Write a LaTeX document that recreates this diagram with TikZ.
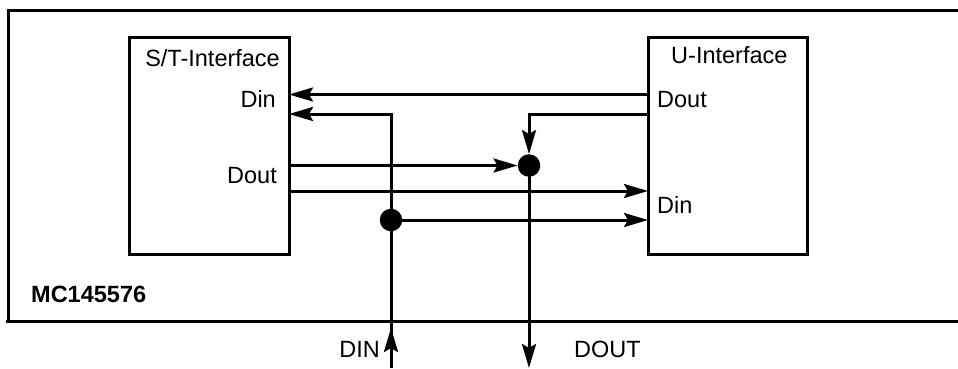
\documentclass[tikz,border=0pt]{standalone}
\usepackage{fontspec}
\setmainfont{Liberation Sans}
\usetikzlibrary{arrows.meta}
\begin{document}
\begin{tikzpicture}[x=1pt,y=-1pt,
  wire/.style={line width=3pt},
  arr/.style={wire,-{Stealth[length=24pt,width=14pt,inset=4pt]}},
  blockbox/.style={draw,line width=3pt,minimum width=160pt,minimum height=217pt,inner sep=0pt},
  junction/.style={circle,fill,draw=none,minimum size=22.5pt,inner sep=0pt},
  lbl/.style={inner sep=0pt,font=\fontsize{23.5}{28}\selectfont},
  blbl/.style={lbl,font=\fontsize{23.5}{28}\selectfont\bfseries}]
\useasboundingbox (0,0) rectangle (958,368);
% outer frame
\draw[wire] (958,10.5) -- (8.5,10.5) -- (8.5,321.5);
\draw[wire] (6,321.5) -- (958,321.5);
% blocks
\node[blockbox] (st) at (209,145.5) {};
\node[blockbox,minimum width=159pt] (u) at (727.5,145.5) {};
% labels
\node[lbl,anchor=base east] (stt) at (280,66) {S/T-Interface};
\node[lbl,anchor=base east] (stdin) at (276,107) {Din};
\node[lbl,anchor=base east] (stdout) at (277,183) {Dout};
\node[lbl,anchor=base west] (ut) at (671,63) {U-Interface};
\node[lbl,anchor=base west] (udout) at (657,107) {Dout};
\node[lbl,anchor=base west] (udin) at (657,213) {Din};
\node[blbl,anchor=base west] (mc) at (31,302) {MC145576};
\node[lbl,anchor=base east] (dinl) at (380,357) {DIN};
\node[lbl,anchor=base west] (doutl) at (574,357) {DOUT};
% ports
\coordinate (stIn1) at (289,94.5);
\coordinate (stIn2) at (289,114);
\coordinate (stOut1) at (289,165.5);
\coordinate (stOut2) at (289,191);
\coordinate (uOut1) at (648,94.5);
\coordinate (uOut2) at (648,114);
\coordinate (uIn1) at (648,191);
\coordinate (uIn2) at (648,220);
\coordinate (dinS) at (391,368);
\coordinate (dinT) at (391,328);
\coordinate (doutE) at (529,368);
% junctions
\node[junction] (j1) at (391,220) {};
\node[junction] (j2) at (529,165.5) {};
% connectors
\draw[arr] (uOut1) -- (stIn1);
\draw[arr] (dinS) |- (stIn2);
\draw[arr] (dinS) -- (dinT);
\draw[arr] (j1.center) -- (uIn2);
\draw[arr] (stOut1) -- (j2.west);
\draw[arr] (stOut2) -- (uIn1);
\draw[arr] (uOut2) -| (j2.north);
\draw[arr] (j2.center) -- (doutE);
\end{tikzpicture}
\end{document}
